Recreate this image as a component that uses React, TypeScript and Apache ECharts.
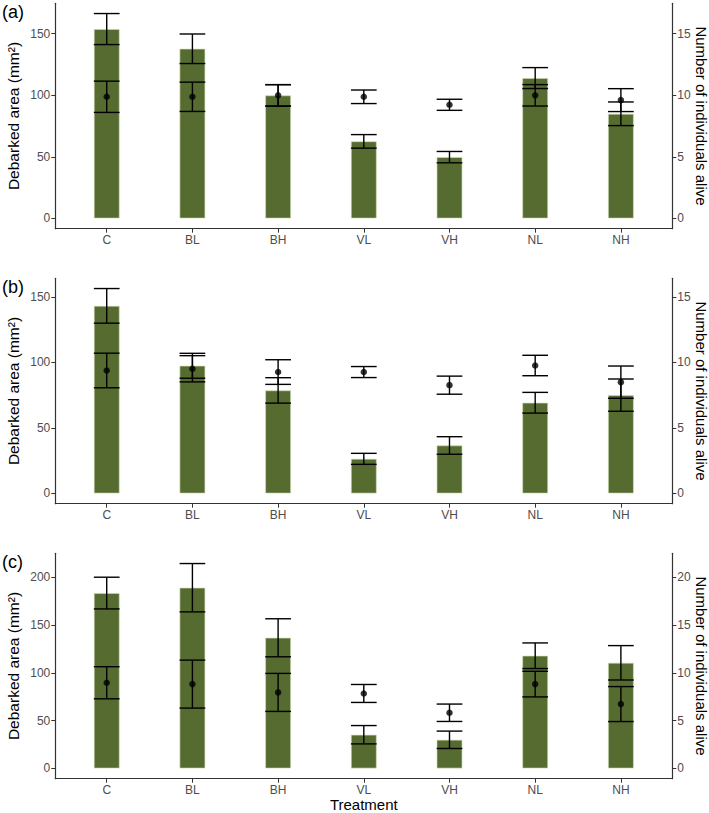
import React, { useEffect, useRef } from "react";
import * as echarts from "echarts";

const categories = ["C", "BL", "BH", "VL", "VH", "NL", "NH"];
const categoryTicks = [0, 1, 2, 3, 4, 5, 6];

// Panel (a)
const areaA = [153.8, 137.8, 99.9, 62.6, 49.8, 114.0, 85.0];
const areaSeA = [12.6, 12.0, 8.7, 5.5, 4.6, 8.5, 9.6];
const aliveA = [9.88, 9.88, 10.0, 9.88, 9.23, 10.0, 9.61];
const aliveSeA = [1.27, 1.19, 0.87, 0.55, 0.45, 0.87, 0.93];

// Panel (b)
const areaB = [143.1, 97.4, 78.6, 26.4, 36.6, 69.2, 75.0];
const areaSeB = [13.2, 9.5, 9.7, 4.2, 6.7, 7.9, 12.3];
const aliveB = [9.38, 9.51, 9.26, 9.26, 8.26, 9.76, 8.49];
const aliveSeB = [1.32, 1.0, 0.94, 0.42, 0.69, 0.78, 1.23];

// Panel (c)
const areaC = [183.6, 189.2, 136.8, 35.3, 30.0, 118.0, 110.6];
const areaSeC = [16.6, 25.3, 19.9, 9.6, 9.1, 13.4, 18.0];
const aliveC = [8.97, 8.83, 7.96, 7.85, 5.83, 8.83, 6.74];
const aliveSeC = [1.68, 2.51, 1.99, 0.94, 0.91, 1.34, 1.83];

// Tick labels
const leftTicksAB = [0, 50, 100, 150];
const leftTicksC = [0, 50, 100, 150, 200];
const rightTicksAB = [0, 5, 10, 15];
const rightTicksC = [0, 5, 10, 15, 20];

const panelLabels = ["(a)", "(b)", "(c)"];

const FONT = "'Liberation Sans', Arial, sans-serif";
const BAR_COLOR = "#556B2F";
const AXIS_COLOR = "#333333";
const TICK_TEXT = "#4d4d4d";
const CAP = 0.3;

export default function App() {
  const ref = useRef<HTMLDivElement>(null);

  useEffect(() => {
    if (!ref.current) return;
    const chart = echarts.init(ref.current, null, { renderer: "svg" });

    const panels = [
      { area: areaA, areaSe: areaSeA, alive: aliveA, aliveSe: aliveSeA, lt: leftTicksAB, rt: rightTicksAB, top: 3.3 },
      { area: areaB, areaSe: areaSeB, alive: aliveB, aliveSe: aliveSeB, lt: leftTicksAB, rt: rightTicksAB, top: 278.3 },
      { area: areaC, areaSe: areaSeC, alive: aliveC, aliveSe: aliveSeC, lt: leftTicksC, rt: rightTicksC, top: 553.3 },
    ];
    const gridLeft = 55.3;
    const gridRight = 709 - 672.3;
    const gridHeight = 225.4;
    const gridWidth = 709 - gridLeft - gridRight;
    const barWidth = (gridWidth / 7.2) * CAP;

    const errRender = (params: any, api: any) => {
      const x = api.value(0);
      const lo = api.value(1);
      const hi = api.value(2);
      const t = api.coord([x, hi]);
      const b = api.coord([x, lo]);
      const half = api.size([CAP, 0])[0] / 2;
      const style = { stroke: "#000", lineWidth: 1.4, fill: "none" };
      return {
        type: "group",
        children: [
          { type: "line", shape: { x1: t[0], y1: t[1], x2: b[0], y2: b[1] }, style },
          { type: "line", shape: { x1: t[0] - half, y1: t[1], x2: t[0] + half, y2: t[1] }, style },
          { type: "line", shape: { x1: b[0] - half, y1: b[1], x2: b[0] + half, y2: b[1] }, style },
        ],
      };
    };

    const grid: any[] = [];
    const xAxis: any[] = [];
    const yAxis: any[] = [];
    const series: any[] = [];
    const graphic: any[] = [];

    panels.forEach((p, i) => {
      const upper = Math.max(
        ...p.area.map((v, k) => v + p.areaSe[k]),
        ...p.alive.map((v, k) => (v + p.aliveSe[k]) * 10)
      );
      const lMin = -0.05 * upper;
      const lMax = 1.05 * upper;
      grid.push({
        left: gridLeft,
        right: gridRight,
        top: p.top,
        height: gridHeight,
        containLabel: false,
        outerBoundsMode: "none",
      });
      xAxis.push({
        type: "value",
        gridIndex: i,
        min: -0.6,
        max: 6.6,
        splitLine: { show: false },
        axisLine: { show: true, onZero: false, lineStyle: { color: AXIS_COLOR, width: 1.2 } },
        axisTick: { show: true, length: 4, customValues: categoryTicks, lineStyle: { color: AXIS_COLOR, width: 1 } },
        axisLabel: {
          customValues: categoryTicks,
          margin: 5,
          color: TICK_TEXT,
          fontSize: 12,
          fontFamily: FONT,
          formatter: (v: number) => categories[Math.round(v)] ?? "",
        },
        name: i === 2 ? "Treatment" : "",
        nameLocation: "middle",
        nameGap: 18,
        nameMoveOverlap: false,
        nameTextStyle: { color: "#000", fontSize: 15, fontFamily: FONT },
      });
      yAxis.push({
        type: "value",
        gridIndex: i,
        position: "left",
        min: lMin,
        max: lMax,
        splitLine: { show: false },
        axisLine: { show: true, onZero: false, lineStyle: { color: AXIS_COLOR, width: 1.2 } },
        axisTick: { show: true, length: 4, customValues: p.lt, lineStyle: { color: AXIS_COLOR, width: 1 } },
        axisLabel: { customValues: p.lt, margin: 5, color: TICK_TEXT, fontSize: 12, fontFamily: FONT },
        name: "Debarked area (mm²)",
        nameLocation: "middle",
        nameGap: 34,
        nameMoveOverlap: false,
        nameTextStyle: { color: "#000", fontSize: 15.5, fontFamily: FONT },
      });
      yAxis.push({
        type: "value",
        gridIndex: i,
        position: "right",
        min: lMin / 10,
        max: lMax / 10,
        splitLine: { show: false },
        axisLine: { show: true, onZero: false, lineStyle: { color: AXIS_COLOR, width: 1.2 } },
        axisTick: { show: true, length: 4, customValues: p.rt, lineStyle: { color: AXIS_COLOR, width: 1 } },
        axisLabel: { customValues: p.rt, margin: 5, color: TICK_TEXT, fontSize: 12, fontFamily: FONT },
        name: "Number of individuals alive",
        nameLocation: "middle",
        nameRotate: -90,
        nameGap: 22,
        nameMoveOverlap: false,
        nameTextStyle: { color: "#000", fontSize: 15, fontFamily: FONT },
      });

      series.push({
        type: "bar",
        xAxisIndex: i,
        yAxisIndex: i * 2,
        barWidth,
        itemStyle: { color: BAR_COLOR, borderColor: "rgba(205,220,180,0.9)", borderWidth: 0.7 },
        data: p.area.map((v, k) => [k, v]),
        z: 1,
      });
      series.push({
        type: "custom",
        xAxisIndex: i,
        yAxisIndex: i * 2,
        renderItem: errRender,
        encode: { x: 0, y: [1, 2] },
        data: p.area.map((v, k) => [k, v - p.areaSe[k], v + p.areaSe[k]]),
        z: 3,
      });
      series.push({
        type: "custom",
        xAxisIndex: i,
        yAxisIndex: i * 2 + 1,
        renderItem: errRender,
        encode: { x: 0, y: [1, 2] },
        data: p.alive.map((v, k) => [k, v - p.aliveSe[k], v + p.aliveSe[k]]),
        z: 3,
      });
      series.push({
        type: "scatter",
        xAxisIndex: i,
        yAxisIndex: i * 2 + 1,
        symbol: "circle",
        symbolSize: 6.5,
        itemStyle: { color: "#000" },
        data: p.alive.map((v, k) => [k, v]),
        z: 4,
      });
      graphic.push({
        type: "text",
        left: 2,
        top: p.top + 9.5 - 10,
        style: { text: panelLabels[i], fontSize: 18, fontFamily: FONT, fill: "#000" },
      });
    });

    chart.setOption({
      animation: false,
      backgroundColor: "#fff",
      textStyle: { fontFamily: FONT },
      grid,
      xAxis,
      yAxis,
      series,
      graphic,
    });

    return () => chart.dispose();
  }, []);

  return (
    <div
      ref={ref}
      style={{ position: "fixed", left: 0, top: 0, width: 709, height: 813, background: "#fff" }}
    />
  );
}
